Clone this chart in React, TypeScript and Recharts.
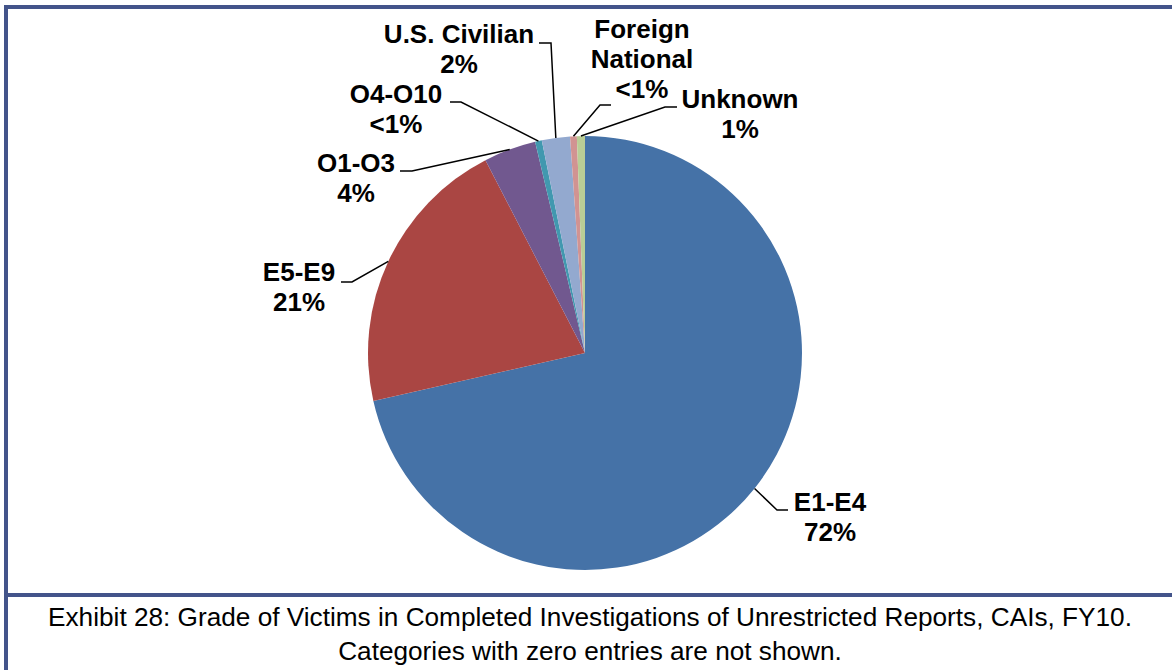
import { PieChart, Pie, Cell } from "recharts";

const grades = ["E1-E4", "E5-E9", "O1-O3", "O4-O10", "U.S. Civilian", "Foreign National", "Unknown"];
const shares = [71.6, 21.0, 3.9, 0.5, 2.1, 0.5, 0.6];
const shareLabels = ["72%", "21%", "4%", "<1%", "2%", "<1%", "1%"];
const labelLines = [
  ["E1-E4"],
  ["E5-E9"],
  ["O1-O3"],
  ["O4-O10"],
  ["U.S. Civilian"],
  ["Foreign", "National"],
  ["Unknown"],
];

const colors = ["#4572a7", "#aa4643", "#71588f", "#4198af", "#93a9cf", "#d19392", "#b9cd96"];

// where each label sits: text centre x, first baseline y, end of leader, elbow
const labelLayout = [
  { x: 830, y: 511, ex: 788, ey: 510, bx: 777 },
  { x: 299, y: 281, ex: 341, ey: 282, bx: 352 },
  { x: 356, y: 172, ex: 400, ey: 171, bx: 412 },
  { x: 396, y: 103, ex: 450, ey: 102, bx: 461 },
  { x: 459, y: 43, ex: 539, ey: 43, bx: 551 },
  { x: 642, y: 38, ex: 611, ey: 105, bx: 600 },
  { x: 740, y: 108, ex: 677, ey: 107, bx: 665 },
];

const data = grades.map((g, i) => ({ name: g, value: shares[i] }));

const RAD = Math.PI / 180;
const borderColor = "#43548a";

function renderLabel(props: any) {
  const { cx, cy, midAngle, outerRadius, index } = props;
  const pos = labelLayout[index];
  const ax = cx + outerRadius * Math.cos(-midAngle * RAD);
  const ay = cy + outerRadius * Math.sin(-midAngle * RAD);
  const lines = [...labelLines[index], shareLabels[index]];
  return (
    <g key={"lbl" + index}>
      <polyline
        points={`${pos.ex},${pos.ey} ${pos.bx},${pos.ey} ${ax},${ay}`}
        fill="none"
        stroke="#000"
        strokeWidth={1.5}
      />
      <text
        x={pos.x}
        y={pos.y}
        textAnchor="middle"
        fontFamily="'Liberation Sans', Arial, sans-serif"
        fontWeight="bold"
        fontSize={26}
        fill="#000"
      >
        {lines.map((l, j) => (
          <tspan key={j} x={pos.x} dy={j === 0 ? 0 : 30}>
            {l}
          </tspan>
        ))}
      </text>
    </g>
  );
}

export default function App() {
  return (
    <div
      style={{
        position: "absolute",
        left: 0,
        top: 0,
        width: 1172,
        height: 670,
        background: "#fff",
        overflow: "hidden",
      }}
    >
      <div style={{ position: "absolute", left: 4, top: 5, width: 1168, height: 4, background: borderColor }} />
      <div style={{ position: "absolute", left: 4, top: 5, width: 4, height: 665, background: borderColor }} />
      <div style={{ position: "absolute", left: 4, top: 593, width: 1168, height: 4, background: borderColor }} />

      <div style={{ position: "absolute", left: 0, top: 0 }}>
        <PieChart width={1172} height={600} margin={{ top: 0, right: 0, bottom: 0, left: 0 }}>
          <Pie
            data={data}
            dataKey="value"
            nameKey="name"
            cx={585}
            cy={353}
            outerRadius={217}
            startAngle={90}
            endAngle={-270}
            stroke="none"
            label={renderLabel}
            labelLine={false}
            isAnimationActive={false}
          >
            {data.map((d, i) => (
              <Cell key={d.name} fill={colors[i]} />
            ))}
          </Pie>
        </PieChart>
      </div>

      <div
        style={{
          position: "absolute",
          left: 8,
          top: 600,
          width: 1164,
          textAlign: "center",
          fontFamily: "'Liberation Sans', Arial, sans-serif",
          fontSize: 26.2,
          lineHeight: "34px",
          color: "#000",
        }}
      >
        Exhibit 28: Grade of Victims in Completed Investigations of Unrestricted Reports, CAIs, FY10.
        <br />
        Categories with zero entries are not shown.
      </div>
    </div>
  );
}
